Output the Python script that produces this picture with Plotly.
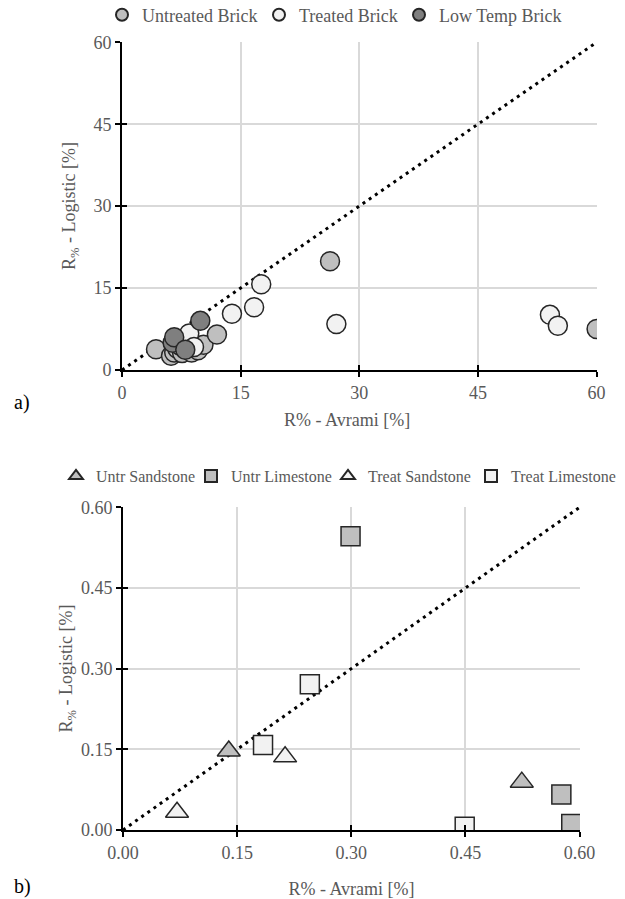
import plotly.graph_objects as go

# ---- Panel a) : bricks (R% values) ----
untr_brick_x = [4.3, 6.2, 6.6, 7.0, 7.6, 8.8, 9.6, 10.3, 12.0, 26.3, 60.0]
untr_brick_y = [3.8, 2.6, 3.2, 3.9, 3.1, 3.2, 3.6, 4.6, 6.5, 19.9, 7.5]
treat_brick_x = [7.3, 8.5, 9.1, 13.9, 16.7, 17.6, 27.1, 54.1, 55.1]
treat_brick_y = [4.5, 6.7, 4.2, 10.3, 11.5, 15.7, 8.4, 10.1, 8.1]
low_brick_x = [6.4, 6.6, 8.0, 9.9]
low_brick_y = [5.0, 6.0, 3.7, 9.0]
ticks_a = [0, 15, 30, 45, 60]

# ---- Panel b) : stones ----
untr_sand_x = [0.139, 0.524]
untr_sand_y = [0.147, 0.089]
untr_lime_x = [0.299, 0.576, 0.589]
untr_lime_y = [0.546, 0.066, 0.011]
treat_sand_x = [0.071, 0.213]
treat_sand_y = [0.033, 0.136]
treat_lime_x = [0.184, 0.2455, 0.449]
treat_lime_y = [0.158, 0.271, 0.006]
ticks_b = [0.0, 0.15, 0.30, 0.45, 0.60]

FONT = "'Liberation Serif', 'Times New Roman', Times, serif"
EDGE = "#262626"
GRID = "#d9d9d9"
LBL = "#595959"
FS = 18

fig = go.Figure()

def mk(x, y, name, color, symbol, size, xa, ya, legend, lw):
    return go.Scatter(
        x=x, y=y, mode="markers", name=name, xaxis=xa, yaxis=ya, legend=legend,
        legendwidth=lw,
        marker=dict(color=color, symbol=symbol, size=size,
                    line=dict(color=EDGE, width=1.5)),
    )

# diagonal 1:1 lines
fig.add_trace(go.Scatter(x=[ticks_a[0], ticks_a[-1]], y=[ticks_a[0], ticks_a[-1]], mode="lines",
                         line=dict(color="black", width=3, dash="3px,4.5px"),
                         showlegend=False, xaxis="x", yaxis="y", hoverinfo="skip"))
fig.add_trace(go.Scatter(x=[ticks_b[0], ticks_b[-1]], y=[ticks_b[0], ticks_b[-1]], mode="lines",
                         line=dict(color="black", width=3, dash="3px,4.5px"),
                         showlegend=False, xaxis="x2", yaxis="y2", hoverinfo="skip"))

fig.add_trace(mk(untr_brick_x, untr_brick_y, "Untreated Brick", "#bfbfbf", "circle", 19, "x", "y", "legend", 112))
fig.add_trace(mk(treat_brick_x, treat_brick_y, "Treated Brick", "#f2f2f2", "circle", 19, "x", "y", "legend", 95))
fig.add_trace(mk(low_brick_x, low_brick_y, "Low Temp Brick", "#7f7f7f", "circle", 19, "x", "y", "legend", 125))

fig.add_trace(mk(untr_sand_x, untr_sand_y, "Untr Sandstone", "#bfbfbf", "triangle-up", 20, "x2", "y2", "legend2", 90))
fig.add_trace(mk(untr_lime_x, untr_lime_y, "Untr Limestone", "#bfbfbf", "square", 19, "x2", "y2", "legend2", 92))
fig.add_trace(mk(treat_sand_x, treat_sand_y, "Treat Sandstone", "#f2f2f2", "triangle-up", 20, "x2", "y2", "legend2", 98))
fig.add_trace(mk(treat_lime_x, treat_lime_y, "Treat Limestone", "#f2f2f2", "square", 19, "x2", "y2", "legend2", 110))

# dummy traces for overlay axes (inside half of crossing ticks)
fig.add_trace(go.Scatter(x=[None], y=[None], xaxis="x3", yaxis="y3", showlegend=False, hoverinfo="skip"))
fig.add_trace(go.Scatter(x=[None], y=[None], xaxis="x4", yaxis="y4", showlegend=False, hoverinfo="skip"))

tickfont = dict(family=FONT, size=FS, color=LBL)
titlefont = dict(family=FONT, size=FS, color=LBL)

def main_axis(domain, rng, tickvals, fmt, title, anchor):
    return dict(domain=domain, range=rng, tickmode="array", tickvals=tickvals,
                ticktext=[fmt.format(v) for v in tickvals],
                showgrid=True, gridcolor=GRID, gridwidth=1.5, zeroline=False,
                showline=True, linecolor="black", linewidth=2,
                ticks="outside", ticklen=5, tickwidth=2, tickcolor="black",
                tickfont=tickfont, anchor=anchor, automargin=False,
                title=dict(text=title, font=titlefont))

def over_axis(domain, rng, tickvals, overlay, anchor, side):
    return dict(domain=domain, range=rng, tickmode="array", tickvals=tickvals,
                overlaying=overlay, anchor=anchor, side=side, automargin=False,
                showgrid=False, zeroline=False, showline=False,
                ticks="inside", ticklen=5, tickwidth=2, tickcolor="black",
                showticklabels=False)

xa_dom = [122 / 625, 597 / 625]
ya_dom = [1 - 370 / 899, 1 - 42 / 899]
xb_dom = [123 / 625, 580 / 625]
yb_dom = [1 - 830 / 899, 1 - 507 / 899]

fig.update_layout(
    template="none",
    width=625, height=899,
    margin=dict(l=0, r=0, t=0, b=0, autoexpand=False),
    paper_bgcolor="white", plot_bgcolor="white",
    font=dict(family=FONT, size=FS, color=LBL),
    xaxis=main_axis(xa_dom, [0, 60.05], ticks_a, "{:g}", "", "y"),
    yaxis=main_axis(ya_dom, [0, 60.05], ticks_a, "{:g}", "R<sub>%</sub> - Logistic [%]", "x"),
    xaxis2=main_axis(xb_dom, [0, 0.6005], ticks_b, "{:.2f}", "R% - Avrami [%]", "y2"),
    yaxis2=main_axis(yb_dom, [0, 0.6005], ticks_b, "{:.2f}", "R<sub>%</sub> - Logistic [%]", "x2"),
    xaxis3=over_axis(xa_dom, [0, 60.05], ticks_a, "x", "y", "bottom"),
    yaxis3=over_axis(ya_dom, [0, 60.05], ticks_a, "y", "x", "left"),
    xaxis4=over_axis(xb_dom, [0, 0.6005], ticks_b, "x2", "y2", "bottom"),
    yaxis4=over_axis(yb_dom, [0, 0.6005], ticks_b, "y2", "x2", "left"),
    legend=dict(orientation="h", x=102 / 625, y=1 - 15 / 899, xanchor="left", yanchor="middle",
                font=dict(family=FONT, size=FS, color=LBL), itemsizing="constant",
                bgcolor="rgba(0,0,0,0)", itemwidth=30),
    legend2=dict(orientation="h", x=56 / 625, y=1 - 476 / 899, xanchor="left", yanchor="middle",
                 font=dict(family=FONT, size=16, color=LBL), itemsizing="constant",
                 bgcolor="rgba(0,0,0,0)", itemwidth=30),
    showlegend=True,
    annotations=[
        dict(text="R% - Avrami [%]", x=347 / 625, y=1 - 420 / 899, xref="paper", yref="paper",
             xanchor="center", yanchor="middle", showarrow=False, font=titlefont),
        dict(text="a)", x=12 / 625, y=1 - 402 / 899, xref="paper", yref="paper",
             xanchor="left", yanchor="middle", showarrow=False,
             font=dict(family=FONT, size=20, color="black")),
        dict(text="b)", x=12 / 625, y=1 - 886 / 899, xref="paper", yref="paper",
             xanchor="left", yanchor="middle", showarrow=False,
             font=dict(family=FONT, size=20, color="black")),
    ],
)

fig.write_html("out.html")
